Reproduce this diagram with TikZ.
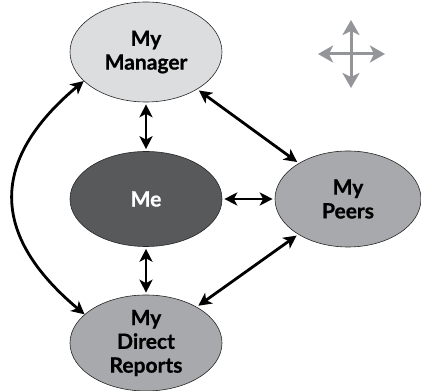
\documentclass[tikz,border=0pt]{standalone}
\usepackage{fontspec}
\setmainfont{Lato}[BoldFeatures={FakeBold=0.8}]
\usetikzlibrary{shapes.geometric,arrows.meta}

\definecolor{hell}{HTML}{DCDDDE}
\definecolor{mittel}{HTML}{A7A9AC}
\definecolor{dunkel}{HTML}{58595B}
\definecolor{symbol}{HTML}{939598}

\begin{document}
\begin{tikzpicture}[x=1pt,y=1pt,
		blase/.style={ellipse, draw=black!85, line width=0.6pt, inner sep=0pt, align=center,
			font=\fontsize{21}{23.8}\selectfont\bfseries},
		pfeil/.style={line width=2.8pt, shorten <=2pt, shorten >=2pt,
			{Stealth[length=13pt,width=13pt,inset=3.5pt]}-{Stealth[length=13pt,width=13pt,inset=3.5pt]}},
		kreuz/.style={symbol, line width=3pt,
			{Stealth[length=15pt,width=17pt,inset=4pt]}-{Stealth[length=15pt,width=17pt,inset=4pt]}}]
		\useasboundingbox (0,0) rectangle (421,391);

		% Ellipsen
		\node[blase, fill=hell, minimum width=152, minimum height=100] (mgr) at (146,339) {My\\Manager};
		\node[blase, fill=dunkel, text=white, minimum width=152, minimum height=95] (me) at (146,192) {Me};
		\node[blase, fill=mittel, minimum width=146, minimum height=96] (peers) at (348,192) {My\\Peers};
		\node[blase, fill=mittel, minimum width=152, minimum height=96] (reports) at (146,48) {My\\Direct\\Reports};

		% Pfeile
		\draw[pfeil] (mgr) -- (me);
		\draw[pfeil] (me) -- (reports);
		\draw[pfeil] (me) -- (peers);
		\draw[pfeil] (mgr) -- (peers);
		\draw[pfeil] (peers) -- (reports);
		\draw[pfeil, shorten <=0pt, shorten >=0pt] (mgr.205) to[out=220, in=140, looseness=1.35] (reports.155);

		% Symbol oben rechts
		\coordinate (kl) at (318,337);
		\coordinate (kr) at (385,337);
		\coordinate (ko) at (351,371);
		\coordinate (ku) at (351,303);
		\draw[kreuz] (kl) -- (kr);
		\draw[kreuz] (ku) -- (ko);
	\end{tikzpicture}
\end{document}
